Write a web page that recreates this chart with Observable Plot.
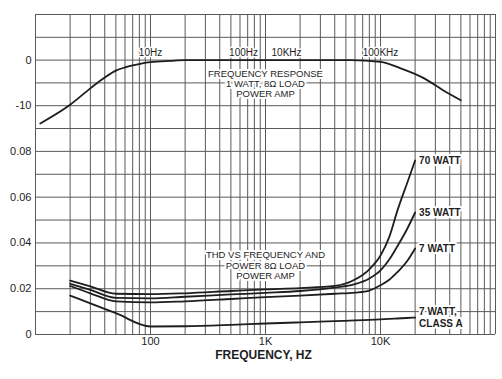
<!DOCTYPE html>
<html>
<head>
<meta charset="utf-8">
<script src="https://cdn.jsdelivr.net/npm/d3@7"></script>
<script src="https://cdn.jsdelivr.net/npm/@observablehq/plot@0.6"></script>
<style>
  html, body { margin: 0; padding: 0; background: #fff; }
  #chart { width: 502px; height: 379px; overflow: hidden; background: #fff; }
  #chart svg { display: block; }
</style>
</head>
<body>
<div id="chart"></div>
<script>
// ---------- graph-paper grid ----------
const gridFreqs = [
  10, 20, 30, 40, 50, 60, 70, 80, 90,
  100, 200, 300, 400, 500, 600, 700, 800, 900,
  1000, 2000, 3000, 4000, 5000, 6000, 7000, 8000, 9000,
  10000, 20000, 30000, 40000, 50000, 60000, 70000, 80000, 90000,
  100000
];
const respGridDb = [-10, -5, 0, 5, 10];
const thdGrid = [0, 0.01, 0.02, 0.03, 0.04, 0.05, 0.06, 0.07, 0.08, 0.09];

// ---------- tick labels ----------
const respTickValues = [0, -10];
const respTickLabels = ["0", "-10"];
const thdTickValues = [0, 0.02, 0.04, 0.06, 0.08];
const thdTickLabels = ["0", "0.02", "0.04", "0.06", "0.08"];
const freqTickValues = [100, 1000, 10000];
const freqTickLabels = ["100", "1K", "10K"];

// ---------- frequency response (dB), 1 W, 8 ohm ----------
const respFreq = [11, 20, 30, 40, 50, 60, 70, 85, 100, 150, 200, 1000, 5500, 10000, 15000, 24000, 35000, 50000];
const respDb   = [-13.9, -9.8, -6.2, -3.8, -2.3, -1.6, -1.15, -0.7, -0.45, -0.15, 0, 0, 0, -0.4, -1.8, -4.0, -6.6, -8.8];

// ---------- THD (%) vs frequency ----------
const thdFreq = [20, 30, 50, 100, 200, 500, 1000, 2000, 4000, 6000, 8000, 10000, 12000, 14000, 17000, 20000];
const thd70W   = [0.0235, 0.0210, 0.0178, 0.0176, 0.0180, 0.0190, 0.0197, 0.0203, 0.0212, 0.0240, 0.0285, 0.0345, 0.0430, 0.0540, 0.0660, 0.0760];
const thd35W   = [0.0222, 0.0195, 0.0160, 0.0158, 0.0165, 0.0175, 0.0182, 0.0190, 0.0205, 0.0220, 0.0245, 0.0280, 0.0330, 0.0385, 0.0460, 0.0533];
const thd7W    = [0.0212, 0.0180, 0.0145, 0.0140, 0.0145, 0.0155, 0.0163, 0.0170, 0.0178, 0.0183, 0.0192, 0.0215, 0.0240, 0.0272, 0.0320, 0.0376];
const thd7WA   = [0.0170, 0.0136, 0.0093, 0.0035, 0.0036, 0.0042, 0.0048, 0.0053, 0.0058, 0.0062, 0.0064, 0.0066, 0.0068, 0.0070, 0.0072, 0.0074];
const thdSeriesNames = ["70 WATT", "35 WATT", "7 WATT", "7 WATT,\nCLASS A"];
const thdSeriesValues = [thd70W, thd35W, thd7W, thd7WA];

// ---------- annotations ----------
const respNoteFreq = [100, 644, 1524, 10000];
const respNoteText = ["10Hz", "100Hz", "10KHz", "100KHz"];
const respNoteDb = 1.55;
const respTitle = "FREQUENCY RESPONSE\n1 WATT, 8Ω LOAD\nPOWER AMP";
const thdTitle = "THD VS FREQUENCY AND\nPOWER 8Ω LOAD\nPOWER AMP";
const xTitle = "FREQUENCY, HZ";

// ---------- build tables ----------
const respData = respFreq.map((f, i) => ({f, db: respDb[i]}));
const thdData = thdSeriesNames.flatMap((name, s) =>
  thdFreq.map((f, i) => ({f, v: thdSeriesValues[s][i], name})));
const thdEnds = thdSeriesNames.map((name, s) => ({
  f: thdFreq[thdFreq.length - 1],
  v: thdSeriesValues[s][thdSeriesValues[s].length - 1],
  name
}));
const respNotes = respNoteFreq.map((f, i) => ({f, db: respNoteDb, text: respNoteText[i]}));

const FONT = "'Liberation Sans', Arial, Helvetica, sans-serif";
const INK = "#1e1e1e";
const GRID = "#5a5a5a";
const W = 502, ML = 35, MR = 7;
const xScale = {type: "log", domain: [10, 100000]};

const topPlot = Plot.plot({
  width: W, height: 128,
  marginLeft: ML, marginRight: MR, marginTop: 14, marginBottom: 0,
  style: {fontFamily: FONT, fontSize: "11px", color: INK, background: "#fff", overflow: "visible"},
  x: {...xScale, axis: null},
  y: {domain: [-15, 10], axis: null},
  marks: [
    Plot.ruleX(gridFreqs, {x: d => d, stroke: GRID, strokeWidth: 1}),
    Plot.ruleY(respGridDb, {y: d => d, stroke: GRID, strokeWidth: 1}),
    Plot.axisY({ticks: respTickValues, tickFormat: d => respTickLabels[respTickValues.indexOf(d)],
      tickSize: 0, tickPadding: 4, label: null, fontSize: 11}),
    Plot.line(respData, {x: "f", y: "db", stroke: INK, strokeWidth: 1.8, curve: "monotone-x"}),
    Plot.text(respNotes, {x: "f", y: "db", text: "text", fontSize: 10, fill: INK,
      stroke: "#fff", strokeWidth: 3, paintOrder: "stroke"}),
    Plot.text([respTitle], {x: () => 1000, y: () => -5.27, text: d => d, fontSize: 9.5, lineHeight: 1.05,
      fill: INK, stroke: "#fff", strokeWidth: 4, paintOrder: "stroke", letterSpacing: "0.3px"})
  ]
});

const bottomPlot = Plot.plot({
  width: W, height: 251,
  marginLeft: ML, marginRight: MR, marginTop: 0, marginBottom: 45,
  style: {fontFamily: FONT, fontSize: "11px", color: INK, background: "#fff", overflow: "visible"},
  x: {...xScale},
  y: {domain: [0, 0.09]},
  marks: [
    Plot.ruleX(gridFreqs, {x: d => d, stroke: GRID, strokeWidth: 1}),
    Plot.ruleY(thdGrid, {y: d => d, stroke: GRID, strokeWidth: 1}),
    Plot.axisY({ticks: thdTickValues, tickFormat: d => thdTickLabels[thdTickValues.indexOf(d)],
      tickSize: 0, tickPadding: 4, label: null, fontSize: 11}),
    Plot.axisX({ticks: freqTickValues, tickFormat: d => freqTickLabels[freqTickValues.indexOf(d)],
      tickSize: 0, tickPadding: 3, label: null, fontSize: 11}),
    Plot.text([xTitle], {frameAnchor: "bottom", text: d => d, dy: 24, dx: -2, fontSize: 12,
      fontWeight: "bold", fill: INK, letterSpacing: "0.6px"}),
    Plot.line(thdData, {x: "f", y: "v", z: "name", stroke: INK, strokeWidth: 1.8, curve: "monotone-x"}),
    Plot.text([thdTitle], {x: () => 1000, y: () => 0.03025, text: d => d, fontSize: 9.5, lineHeight: 1.08,
      fill: INK, stroke: "#fff", strokeWidth: 4, paintOrder: "stroke", letterSpacing: "0.3px"}),
    Plot.text(thdEnds, {x: "f", y: "v", text: "name", textAnchor: "start", dx: 4, fontSize: 10,
      fontWeight: "bold", lineHeight: 1.2, fill: INK, stroke: "#fff", strokeWidth: 4, paintOrder: "stroke"})
  ]
});

const root = document.getElementById("chart");
root.appendChild(topPlot);
root.appendChild(bottomPlot);
</script>
</body>
</html>
